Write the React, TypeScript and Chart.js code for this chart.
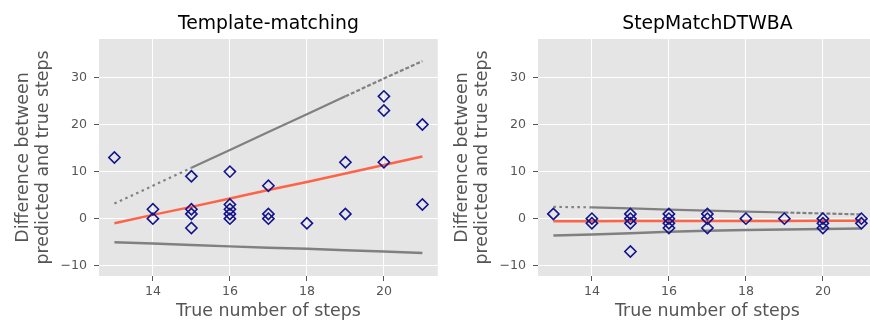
import React, { useEffect, useRef } from 'react';
import { Chart, registerables } from 'chart.js';

Chart.register(...registerables);

// ---------- data ----------
const xTicks = [14, 16, 18, 20];
const yTicks = [-10, 0, 10, 20, 30];
const lineX = [13, 14, 15, 16, 17, 18, 19, 20, 21];

// Template-matching
const tmTitle = 'Template-matching';
const tmX = [13, 14, 14, 15, 15, 15, 15, 16, 16, 16, 16, 16, 17, 17, 17, 18, 19, 19, 20, 20, 20, 21, 21];
const tmY = [13, 2, 0, 9, 2, 1, -2, 10, 3, 2, 1, 0, 7, 1, 0, -1, 12, 1, 26, 23, 12, 20, 3];
const tmFit = [-1.0, 0.8, 2.5, 4.3, 6.1, 7.8, 9.6, 11.4, 13.2];
const tmUpper = [3.2, 7.0, 10.8, 14.6, 18.4, 22.2, 26.0, 29.8, 33.5];
const tmLower = [-5.0, -5.3, -5.6, -5.9, -6.2, -6.4, -6.7, -7.0, -7.3];

// StepMatchDTWBA
const smTitle = 'StepMatchDTWBA';
const smX = [13, 14, 14, 15, 15, 15, 15, 16, 16, 16, 16, 17, 17, 17, 18, 19, 20, 20, 20, 21, 21];
const smY = [1, 0, -1, 1, 0, -1, -7, 1, 0, -1, -2, 1, 0, -2, 0, 0, 0, -1, -2, 0, -1];
const smFit = [-0.55, -0.54, -0.52, -0.51, -0.5, -0.49, -0.48, -0.46, -0.45];
const smUpper = [2.5, 2.4, 2.2, 1.9, 1.7, 1.5, 1.3, 1.1, 0.9];
const smLower = [-3.6, -3.4, -3.1, -2.8, -2.6, -2.4, -2.3, -2.2, -2.1];

const xLabel = 'True number of steps';
const yLabel = ['Difference between', 'predicted and true steps'];

// ---------- styling ----------
const FAMILY = '"DejaVu Sans", sans-serif';
const W = 445;
const H = 322;

const panelPlugin = {
  id: 'panel',
  beforeDraw(chart: any) {
    const { ctx, chartArea: a } = chart;
    ctx.save();
    ctx.fillStyle = '#E5E5E5';
    ctx.fillRect(a.left, a.top, a.right - a.left, a.bottom - a.top);
    ctx.restore();
  },
  afterDraw(chart: any, _args: any, opts: any) {
    const { ctx, chartArea: a } = chart;
    ctx.save();
    ctx.font = '18.8px ' + FAMILY;
    ctx.fillStyle = '#000';
    ctx.textAlign = 'center';
    ctx.textBaseline = 'alphabetic';
    ctx.fillText(opts.text, (a.left + a.right) / 2, 29.3);
    ctx.restore();
  },
};

function makeConfig(
  title: string,
  px: number[],
  py: number[],
  fit: number[],
  upper: number[],
  lower: number[],
  dotEnd: number,
  solidEnd: number
): any {
  const toPts = (xs: number[], ys: number[]) => xs.map((x, i) => ({ x, y: ys[i] }));
  return {
    type: 'scatter',
    data: {
      datasets: [
        {
          data: toPts(px, py),
          pointStyle: 'rectRot',
          pointRadius: 5.6,
          pointBorderWidth: 1.6,
          borderColor: '#14148C',
          backgroundColor: 'rgba(0,0,0,0)',
          showLine: false,
        },
        {
          data: toPts(lineX, fit),
          showLine: true,
          pointRadius: 0,
          borderColor: '#FF6347',
          borderWidth: 2.5,
          tension: 0,
        },
        {
          data: toPts(lineX, upper),
          showLine: true,
          pointRadius: 0,
          borderColor: '#808080',
          borderWidth: 2.2,
          tension: 0,
          segment: {
            borderDash: (c: any) =>
              c.p0DataIndex < dotEnd ? [2.5, 3.5] : c.p0DataIndex >= solidEnd ? [4, 2] : [],
          },
        },
        {
          data: toPts(lineX, lower),
          showLine: true,
          pointRadius: 0,
          borderColor: '#808080',
          borderWidth: 2.5,
          tension: 0,
        },
      ],
    },
    options: {
      responsive: false,
      animation: false,
      devicePixelRatio: 1,
      events: [],
      layout: { padding: { top: 39, right: 3, bottom: 0, left: 0 } },
      plugins: {
        legend: { display: false },
        tooltip: { enabled: false },
        title: { display: false },
        panel: { text: title },
      },
      scales: {
        x: {
          type: 'linear',
          min: 12.6,
          max: 21.4,
          afterBuildTicks: (s: any) => {
            s.ticks = xTicks.map((v) => ({ value: v }));
          },
          afterFit: (s: any) => {
            s.height = 46;
          },
          border: { display: false },
          grid: { color: '#FFFFFF', lineWidth: 1, tickColor: '#555555', tickLength: 5, tickWidth: 1 },
          ticks: {
            color: '#555555',
            font: { family: FAMILY, size: 12.6 },
            padding: 3,
            maxRotation: 0,
            autoSkip: false,
            callback: (v: any) => String(v).replace('-', '\u2212'),
          },
          title: {
            display: true,
            text: xLabel,
            color: '#555555',
            font: { family: FAMILY, size: 17.4, lineHeight: '20.6px' },
            padding: { top: 0, bottom: 0.7 },
          },
        },
        y: {
          type: 'linear',
          min: -12.2,
          max: 38.2,
          afterBuildTicks: (s: any) => {
            s.ticks = yTicks.map((v) => ({ value: v }));
          },
          afterFit: (s: any) => {
            s.width = 99;
          },
          border: { display: false },
          grid: { color: '#FFFFFF', lineWidth: 1, tickColor: '#555555', tickLength: 5, tickWidth: 1 },
          ticks: {
            color: '#555555',
            font: { family: FAMILY, size: 12.6 },
            padding: 7,
            autoSkip: false,
            callback: (v: any) => String(v).replace('-', '\u2212'),
          },
          title: {
            display: true,
            text: yLabel,
            color: '#555555',
            font: { family: FAMILY, size: 17.4, lineHeight: '20.6px' },
            padding: { top: 13, bottom: 0 },
          },
        },
      },
    },
    plugins: [panelPlugin],
  };
}

function Panel(props: { left: number; config: () => any }) {
  const ref = useRef<HTMLCanvasElement | null>(null);
  useEffect(() => {
    if (!ref.current) return;
    const chart = new Chart(ref.current, props.config());
    return () => chart.destroy();
  }, []);
  return (
    <canvas
      ref={ref}
      width={W}
      height={H}
      style={{ position: 'absolute', left: props.left, top: 0, width: W, height: H }}
    />
  );
}

export default function App() {
  return (
    <div
      style={{
        position: 'fixed',
        left: 0,
        top: 0,
        width: 870,
        height: 322,
        overflow: 'hidden',
        background: '#fff',
      }}
    >
      <Panel left={0} config={() => makeConfig(tmTitle, tmX, tmY, tmFit, tmUpper, tmLower, 2, 6)} />
      <Panel left={439} config={() => makeConfig(smTitle, smX, smY, smFit, smUpper, smLower, 1, 6)} />
    </div>
  );
}
